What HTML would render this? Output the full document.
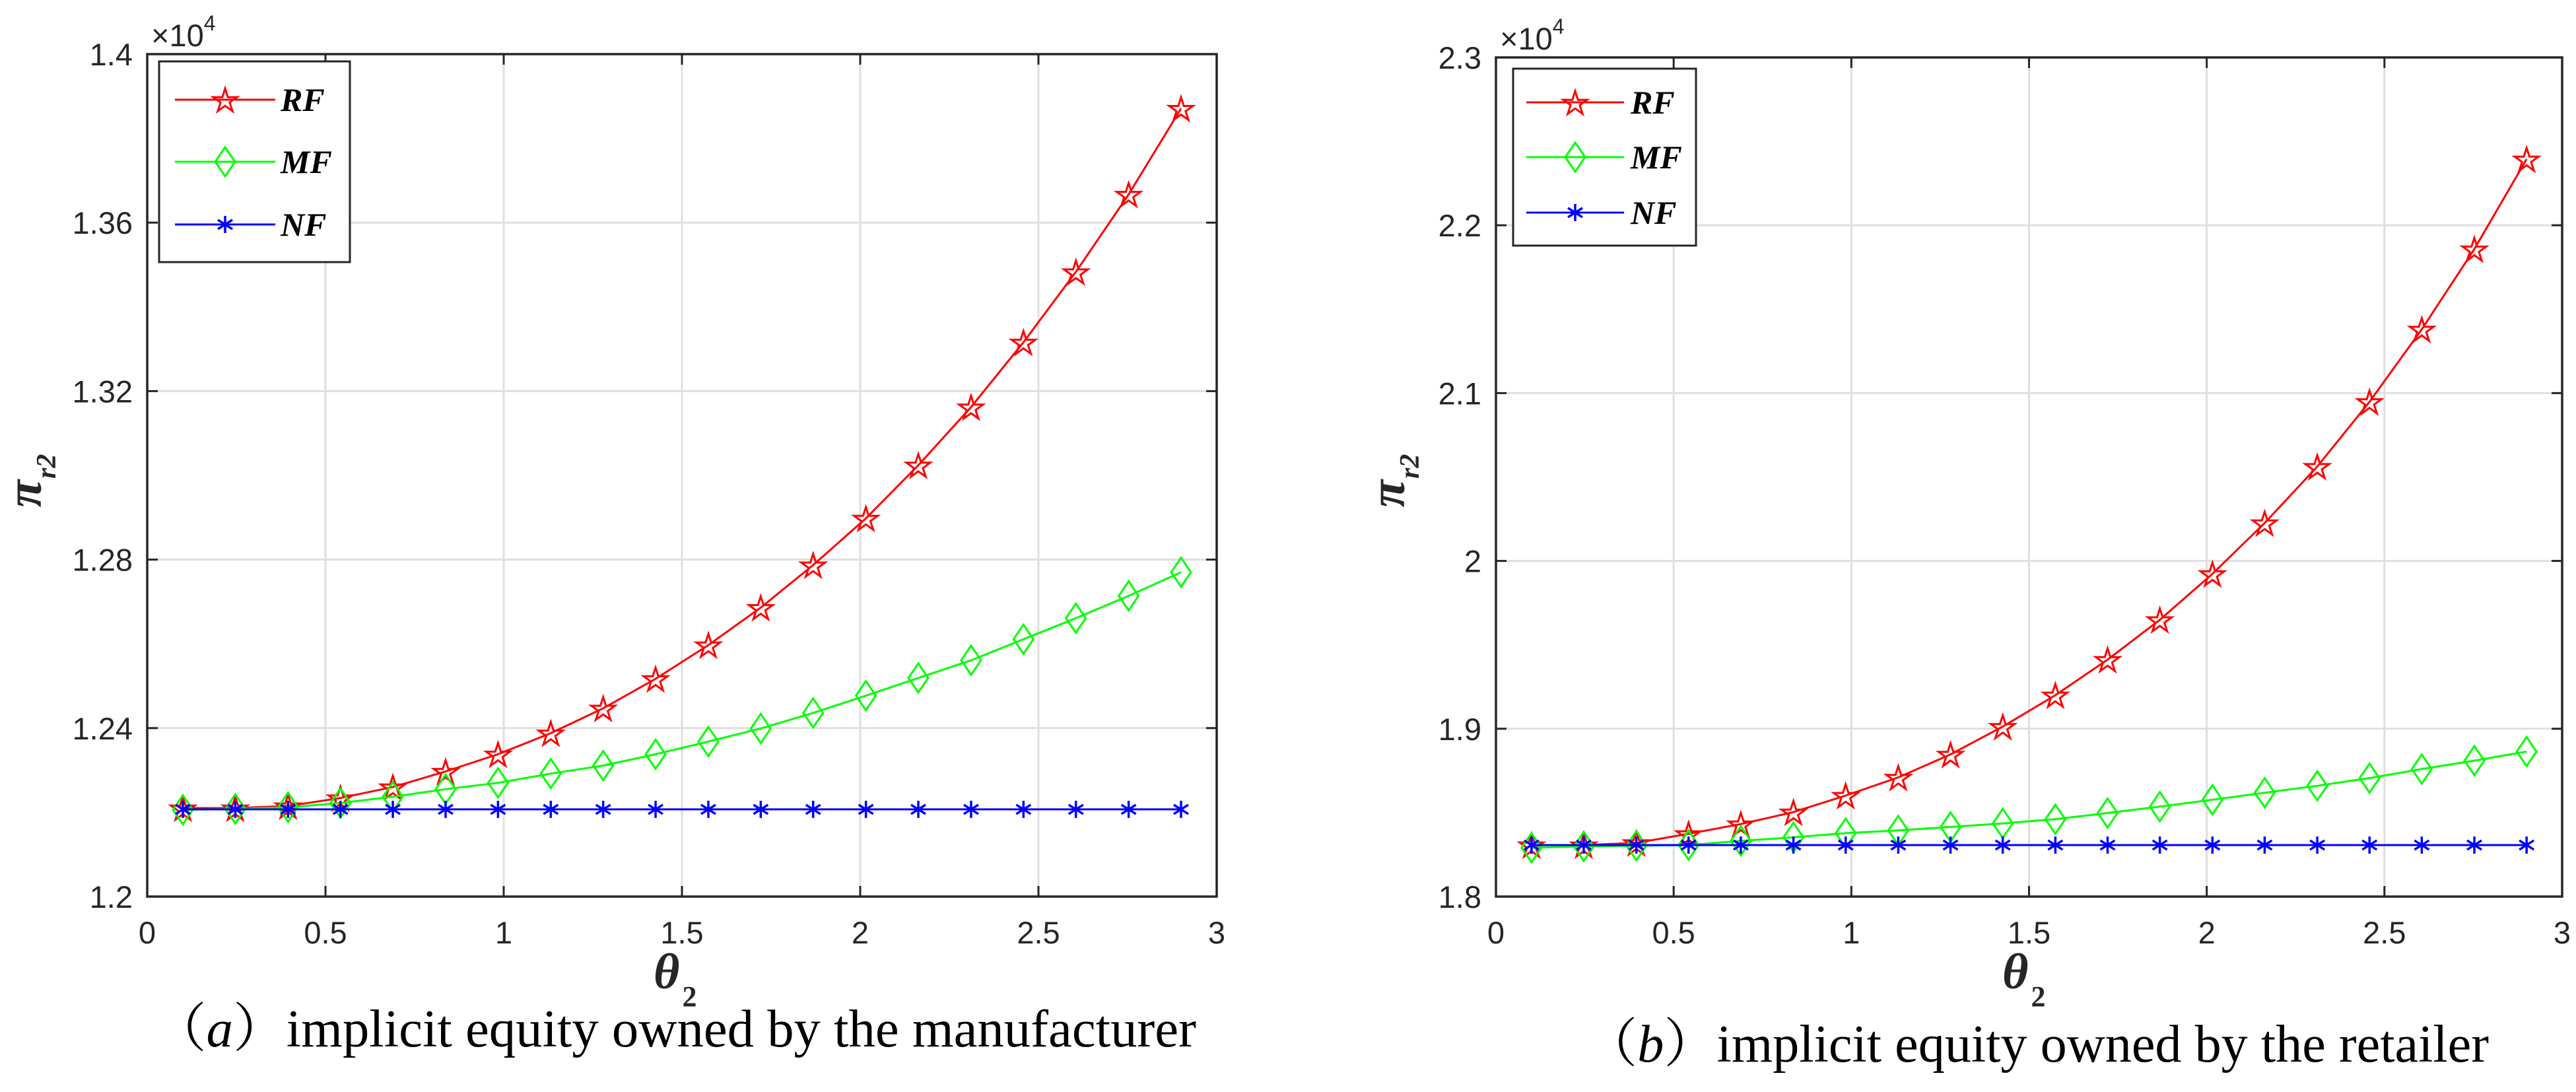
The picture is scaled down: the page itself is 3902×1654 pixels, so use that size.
<!DOCTYPE html>
<html><head><meta charset="utf-8"><style>
html,body{margin:0;padding:0;background:#fff;}
svg{display:block;}
.tk{font-family:"Liberation Sans",sans-serif;font-size:47px;fill:#262626;}
.lg{font-family:"Liberation Serif",serif;font-weight:bold;font-style:italic;font-size:50px;fill:#000;}
.cap{font-family:"Liberation Serif","Noto Serif CJK SC",serif;font-size:80px;fill:#000;}
.ax{font-family:"Liberation Serif",serif;font-weight:bold;font-style:italic;fill:#262626;}
</style></head><body>
<svg id="fig" width="3902" height="1654" viewBox="0 0 3902 1654" xmlns="http://www.w3.org/2000/svg"></svg>
<script>
const xVals=[0.1,0.247,0.395,0.542,0.689,0.837,0.984,1.132,1.279,1.426,1.574,1.721,1.868,2.016,2.163,2.311,2.458,2.605,2.753,2.9];
const xTicks=[0,0.5,1,1.5,2,2.5,3];
const xTickLabels=["0","0.5","1","1.5","2","2.5","3"];
const aRF=[1.2210,1.2210,1.2215,1.2234,1.2260,1.2297,1.2338,1.2388,1.2447,1.2517,1.2597,1.2686,1.2787,1.2898,1.3024,1.3162,1.3316,1.3483,1.3667,1.3871];
const aMF=[1.2206,1.2208,1.2212,1.2222,1.2237,1.2255,1.2270,1.2292,1.2311,1.2338,1.2368,1.2399,1.2436,1.2477,1.2519,1.2561,1.2611,1.2661,1.2714,1.2770];
const aNF=[1.2207,1.2207,1.2207,1.2207,1.2207,1.2207,1.2207,1.2207,1.2207,1.2207,1.2207,1.2207,1.2207,1.2207,1.2207,1.2207,1.2207,1.2207,1.2207,1.2207];
const aYTicks=[1.2,1.24,1.28,1.32,1.36,1.4];
const aYTickLabels=["1.2","1.24","1.28","1.32","1.36","1.4"];
const bRF=[1.8307,1.8307,1.8320,1.8374,1.8432,1.8503,1.8602,1.8710,1.8847,1.9013,1.9200,1.9412,1.9649,1.9923,2.0226,2.0562,2.0948,2.1380,2.1858,2.2394];
const bMF=[1.8291,1.8299,1.8303,1.8307,1.8332,1.8353,1.8378,1.8394,1.8415,1.8436,1.8461,1.8498,1.8536,1.8577,1.8619,1.8660,1.8706,1.8760,1.8810,1.8864];
const bNF=[1.8307,1.8307,1.8307,1.8307,1.8307,1.8307,1.8307,1.8307,1.8307,1.8307,1.8307,1.8307,1.8307,1.8307,1.8307,1.8307,1.8307,1.8307,1.8307,1.8307];
const bYTicks=[1.8,1.9,2.0,2.1,2.2,2.3];
const bYTickLabels=["1.8","1.9","2","2.1","2.2","2.3"];
const seriesNames=["RF","MF","NF"];

const NS="http://www.w3.org/2000/svg";
const svg=document.getElementById('fig');
function mk(tag,attrs,parent){const e=document.createElementNS(NS,tag);for(const k in attrs)e.setAttribute(k,attrs[k]);(parent||svg).appendChild(e);return e;}
function starPts(cx,cy,R){const r=R*0.38;let p=[];for(let i=0;i<10;i++){const a=-Math.PI/2+i*Math.PI/5;const rr=i%2?r:R;p.push((cx+rr*Math.cos(a)).toFixed(1)+','+(cy+rr*Math.sin(a)).toFixed(1));}return p.join(' ');}
function marker(g,type,cx,cy,color){
  if(type==='star'){const m=mk('polygon',{points:starPts(cx,cy+2,19),fill:'none',stroke:color,'stroke-width':3},g);}
  else if(type==='diamond'){const m=mk('polygon',{points:`${cx},${cy-22} ${cx+15},${cy} ${cx},${cy+22} ${cx-15},${cy}`,fill:'none',stroke:color,'stroke-width':3},g);}
  else{const m=mk('path',{d:`M${cx},${cy-13}V${cy+13}M${cx-11},${cy-7}L${cx+11},${cy+7}M${cx-11},${cy+7}L${cx+11},${cy-7}`,stroke:color,'stroke-width':3.5,fill:'none'},g);}
}
function panel(o){
  const g=mk('g',{});
  
  
  const X=v=>o.x0+(v-0)/(3-0)*(o.x1-o.x0);
  const Y=v=>o.y1-(v-o.ymin)/(o.ymax-o.ymin)*(o.y1-o.y0);
  mk('rect',{x:o.x0,y:o.y0,width:o.x1-o.x0,height:o.y1-o.y0,fill:'#fff'},g);
  xTicks.forEach(t=>{if(t>0&&t<3){const l=mk('line',{x1:X(t),x2:X(t),y1:o.y0,y2:o.y1,stroke:'#dfdfdf','stroke-width':3},g);}});
  o.yt.forEach(t=>{const y=Y(t);if(y>o.y0+2&&y<o.y1-2){const l=mk('line',{x1:o.x0,x2:o.x1,y1:y,y2:y,stroke:'#dfdfdf','stroke-width':3},g);}});
  const defs=[[o.rf,'#ff0000','star'],[o.mf,'#00ff00','diamond'],[o.nf,'#0000ff','ast']];
  defs.forEach((d,si)=>{
    const sg=mk('g',{},g);
    
    
    const pts=d[0].map((v,i)=>X(xVals[i]).toFixed(1)+','+Y(v).toFixed(1)).join(' ');
    const pl=mk('polyline',{points:pts,fill:'none',stroke:d[1],'stroke-width':3},sg);
    
    
    d[0].forEach((v,i)=>marker(sg,d[2],X(xVals[i]),Y(v),d[1]));
  });
  const bx=mk('rect',{x:o.x0,y:o.y0,width:o.x1-o.x0,height:o.y1-o.y0,fill:'none',stroke:'#262626','stroke-width':3.5},g);
  
  xTicks.forEach((t,i)=>{
    const x=X(t);
    mk('line',{x1:x,x2:x,y1:o.y1,y2:o.y1-16,stroke:'#262626','stroke-width':3},g);
    mk('line',{x1:x,x2:x,y1:o.y0,y2:o.y0+16,stroke:'#262626','stroke-width':3},g);
    const tx=mk('text',{x:x,y:1429,'text-anchor':'middle',class:'tk'},g);tx.textContent=xTickLabels[i];
    
  });
  o.yt.forEach((t,i)=>{
    const y=Y(t);
    mk('line',{x1:o.x0,x2:o.x0+16,y1:y,y2:y,stroke:'#262626','stroke-width':3},g);
    mk('line',{x1:o.x1,x2:o.x1-16,y1:y,y2:y,stroke:'#262626','stroke-width':3},g);
    const tx=mk('text',{x:o.x0-22,y:y+17,'text-anchor':'end',class:'tk'},g);tx.textContent=o.ytl[i];
    
  });
  const ex=mk('text',{x:o.x0+6,y:o.y0-12,class:'tk'},g);
  
  ex.innerHTML='×10<tspan dy="-24" font-size="32">4</tspan>';
  const L=o.leg;
  const lg=mk('g',{},g);
  
  mk('rect',{x:L.x,y:L.y,width:L.w,height:L.h,fill:'#fff',stroke:'#262626','stroke-width':3},lg);
  defs.forEach((d,si)=>{
    const ey=L.rows[si];
    const eg=mk('g',{},lg);
    
    
    mk('line',{x1:L.lx0,x2:L.lx1,y1:ey,y2:ey,stroke:d[1],'stroke-width':3},eg);
    marker(eg,d[2],(L.lx0+L.lx1)/2,ey,d[1]);
    const t=mk('text',{x:L.tx,y:ey+17,class:'lg'},eg);t.textContent=seriesNames[si];
  });
  const xl=mk('text',{x:o.xl,y:1497,class:'ax','font-size':76},g);
  
  xl.innerHTML='θ<tspan font-size="44" font-style="normal" dy="27" dx="4">2</tspan>';
  const yl=mk('text',{x:0,y:0,class:'ax','font-size':76,transform:`translate(${o.yx},${o.ym}) rotate(-90)`,'text-anchor':'middle'},g);
  
  yl.innerHTML='π<tspan font-size="42" dy="22" dx="2">r2</tspan>';
  const cp=mk('text',{x:o.cx,y:o.cy,class:'cap',textLength:o.cw,lengthAdjust:'spacingAndGlyphs'},g);
  
  cp.innerHTML='（<tspan font-style="italic">'+o.lt+'</tspan>）'+o.cap;
}
panel({name:'panel-a-manufacturer',x0:223,x1:1843,y0:82,y1:1358,ymin:1.2,ymax:1.4,yt:aYTicks,ytl:aYTickLabels,rf:aRF,mf:aMF,nf:aNF,
  leg:{x:241,y:93,w:289,h:304,rows:[151,245,340],lx0:265,lx1:417,tx:425},xl:990,yx:62,ym:728,cx:232,cy:1585,cw:1580,lt:'a',cap:'implicit equity owned by the manufacturer'});
panel({name:'panel-b-retailer',x0:2266,x1:3881,y0:87,y1:1358,ymin:1.8,ymax:2.3,yt:bYTicks,ytl:bYTickLabels,rf:bRF,mf:bMF,nf:bNF,
  leg:{x:2292,y:104,w:277,h:268,rows:[155,238,322],lx0:2312,lx1:2460,tx:2470},xl:3033,yx:2127,ym:728,cx:2400,cy:1608,cw:1370,lt:'b',cap:'implicit equity owned by the retailer'});
</script>
</body></html>
